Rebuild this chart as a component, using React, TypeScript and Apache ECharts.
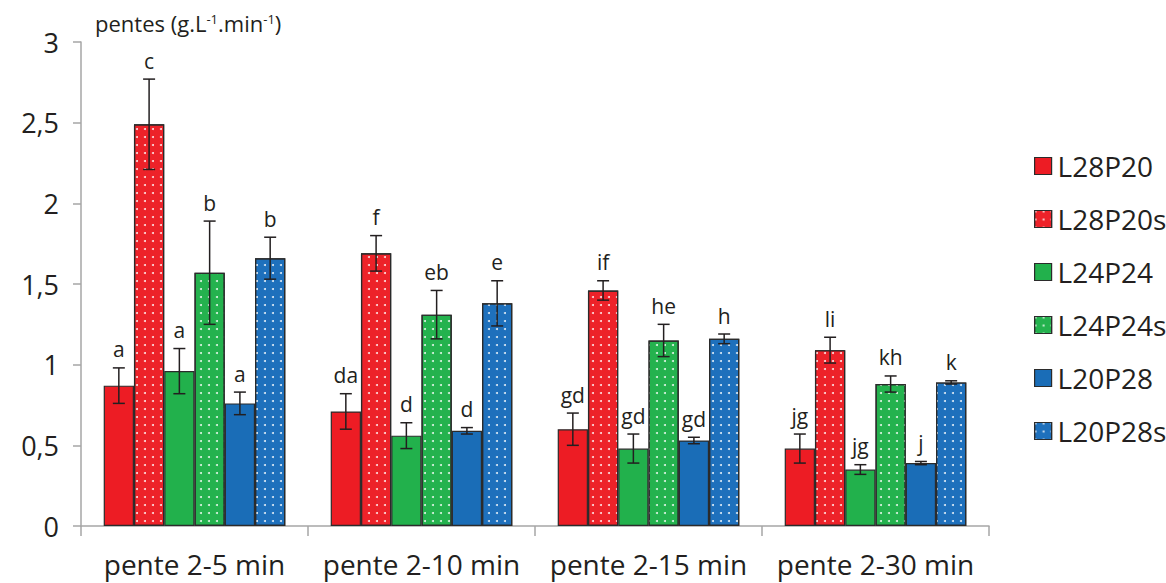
import React, { useEffect, useRef } from "react";
import * as echarts from "echarts";

const categories = ["pente 2-5 min", "pente 2-10 min", "pente 2-15 min", "pente 2-30 min"];
const seriesNames = ["L28P20", "L28P20s", "L24P24", "L24P24s", "L20P28", "L20P28s"];
const seriesColors = ["#ED1C24", "#ED2229", "#22B14C", "#24B24E", "#1A6DB7", "#1E70BC"];
const dotted = [false, true, false, true, false, true];

const L28P20 = [0.87, 0.71, 0.6, 0.48];
const L28P20s = [2.49, 1.69, 1.46, 1.09];
const L24P24 = [0.96, 0.56, 0.48, 0.35];
const L24P24s = [1.57, 1.31, 1.15, 0.88];
const L20P28 = [0.76, 0.59, 0.53, 0.39];
const L20P28s = [1.66, 1.38, 1.16, 0.89];
const values = [L28P20, L28P20s, L24P24, L24P24s, L20P28, L20P28s];

const errL28P20 = [0.11, 0.11, 0.1, 0.09];
const errL28P20s = [0.28, 0.11, 0.06, 0.08];
const errL24P24 = [0.14, 0.08, 0.09, 0.03];
const errL24P24s = [0.32, 0.15, 0.1, 0.05];
const errL20P28 = [0.07, 0.02, 0.02, 0.01];
const errL20P28s = [0.13, 0.14, 0.03, 0.01];
const errors = [errL28P20, errL28P20s, errL24P24, errL24P24s, errL20P28, errL20P28s];

const lettersL28P20 = ["a", "da", "gd", "jg"];
const lettersL28P20s = ["c", "f", "if", "li"];
const lettersL24P24 = ["a", "d", "gd", "jg"];
const lettersL24P24s = ["b", "eb", "he", "kh"];
const lettersL20P28 = ["a", "d", "gd", "j"];
const lettersL20P28s = ["b", "e", "h", "k"];
const letters = [lettersL28P20, lettersL28P20s, lettersL24P24, lettersL24P24s, lettersL20P28, lettersL20P28s];

const yTicks = { min: 0, max: 3, interval: 0.5 };

const FONT = "'Open Sans', 'Noto Sans', sans-serif";
const TEXT = "#231F20";

export default function App() {
  const ref = useRef<HTMLDivElement>(null);
  useEffect(() => {
    if (!ref.current) return;
    document.body.style.margin = "0";
    const chart = echarts.init(ref.current, null, { renderer: "svg" });
    const nS = seriesNames.length;

    const errData: number[][] = [];
    values.forEach((arr, s) => {
      arr.forEach((v, c) => {
        errData.push([c, s, v, errors[s][c]]);
      });
    });

    const decal = {
      symbol: "circle",
      symbolSize: 1,
      color: "rgba(255,255,255,0.85)",
      dashArrayX: [2, 6],
      dashArrayY: [2, 6],
      rotation: 0,
    };

    const barSeries = seriesNames.map((name, s) => ({
      name,
      type: "bar",
      data: values[s],
      barGap: "0%",
      barCategoryGap: "20%",
      itemStyle: {
        color: seriesColors[s],
        borderColor: "#2b2b2b",
        borderWidth: 1.2,
        decal: dotted[s] ? decal : undefined,
      },
    }));

    const option = {
      animation: false,
      grid: { left: 81, right: 177, top: 42, bottom: 57, containLabel: false },
      legend: {
        orient: "vertical",
        left: 1029,
        top: 142,
        itemWidth: 17,
        itemHeight: 17,
        itemGap: 15,
        icon: "rect",
        data: seriesNames,
        textStyle: { fontFamily: FONT, fontSize: 28, color: TEXT, padding: [0, 0, 0, 1], lineHeight: 38 },
        itemStyle: { borderColor: "#2b2b2b", borderWidth: 1.2 },
      },
      xAxis: {
        type: "category",
        data: categories,
        axisLine: { lineStyle: { color: "#A6A6A6", width: 1.5 } },
        axisTick: { show: true, length: 10, lineStyle: { color: "#A6A6A6", width: 1.5 } },
        axisLabel: { interval: 0, fontFamily: FONT, fontSize: 28, color: TEXT, margin: 24 },
      },
      yAxis: {
        type: "value",
        min: yTicks.min,
        max: yTicks.max,
        interval: yTicks.interval,
        splitLine: { show: false },
        axisLine: { show: true, lineStyle: { color: "#A6A6A6", width: 1.5 } },
        axisTick: { show: true, length: 8, lineStyle: { color: "#A6A6A6", width: 1.5 } },
        axisLabel: {
          fontFamily: FONT,
          fontSize: 27,
          color: TEXT,
          margin: 22,
          formatter: (v: number) => String(v).replace(".", ","),
        },
      },
      graphic: [
        {
          type: "text",
          left: 95,
          top: 12,
          style: {
            text: "{a|pentes (g.L}{s|-1}{a|.min}{s|-1}{a|)}",
            rich: {
              a: { fontFamily: FONT, fontSize: 22, fill: TEXT, lineHeight: 30 },
              s: { fontFamily: FONT, fontSize: 13, fill: TEXT, lineHeight: 30, padding: [0, 0, 9, 0] },
            },
          },
        },
      ],
      series: [
        ...barSeries,
        {
          type: "custom",
          name: "err",
          z: 10,
          data: errData,
          encode: { x: 0, y: 2 },
          renderItem: (params: any, api: any) => {
            const c = api.value(0);
            const s = api.value(1);
            const v = api.value(2);
            const e = api.value(3);
            const band = api.size([1, 0])[0];
            const bw = (band * 0.8) / nS;
            const center = api.coord([c, 0])[0];
            const x = center + (s - (nS - 1) / 2) * bw;
            const yHi = api.coord([c, v + e])[1];
            const yLo = api.coord([c, v - e])[1];
            const cap = 6;
            const ls = { stroke: "#231F20", lineWidth: 1.5 };
            return {
              type: "group",
              children: [
                { type: "line", shape: { x1: x, y1: yHi, x2: x, y2: yLo }, style: ls },
                { type: "line", shape: { x1: x - cap, y1: yHi, x2: x + cap, y2: yHi }, style: ls },
                { type: "line", shape: { x1: x - cap, y1: yLo, x2: x + cap, y2: yLo }, style: ls },
                {
                  type: "text",
                  x: x,
                  y: yHi - 8,
                  style: {
                    text: letters[s][c],
                    fontFamily: FONT,
                    fontSize: 21,
                    fill: TEXT,
                    align: "center",
                    verticalAlign: "bottom",
                  },
                },
              ],
            };
          },
        },
      ],
    };

    chart.setOption(option as any);
    return () => chart.dispose();
  }, []);

  return <div ref={ref} style={{ width: 1166, height: 583 }} />;
}
